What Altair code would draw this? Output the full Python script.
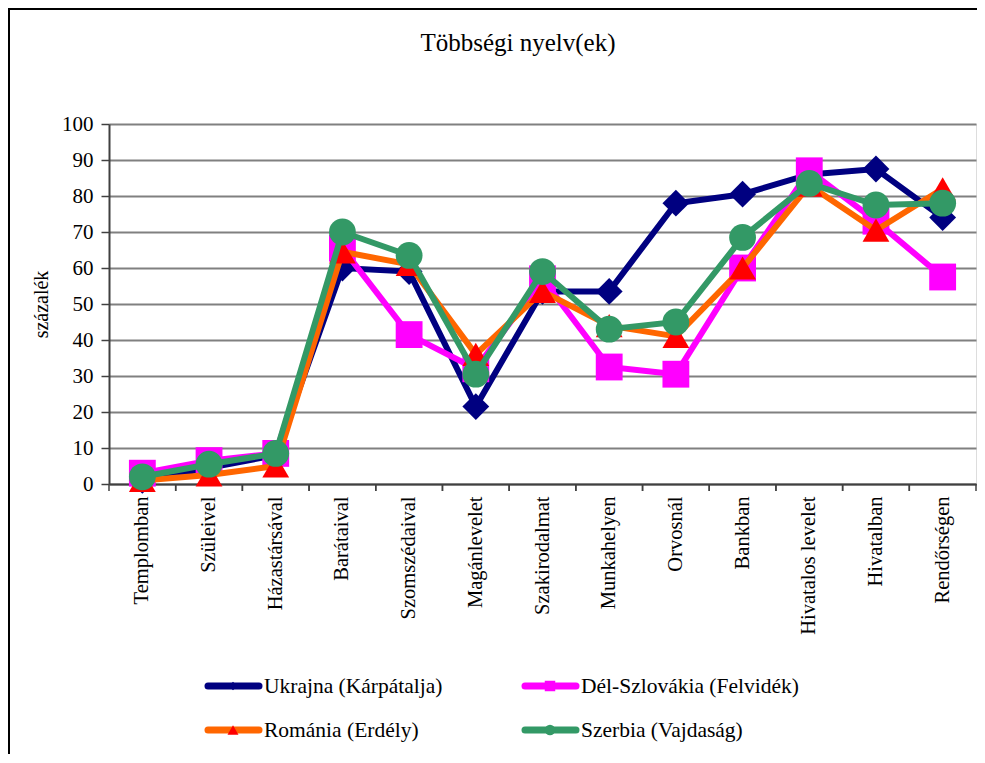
import altair as alt
import pandas as pd

categories = ["Templomban", "Szüleivel", "Házastársával", "Barátaival", "Szomszédaival",
              "Magánlevelet", "Szakirodalmat", "Munkahelyen", "Orvosnál", "Bankban",
              "Hivatalos levelet", "Hivatalban", "Rendőrségen"]
series_names = ["Ukrajna (Kárpátalja)", "Dél-Szlovákia (Felvidék)", "Románia (Erdély)", "Szerbia (Vajdaság)"]
ukrajna = [1, 4.5, 8, 60, 59, 21.5, 53.5, 53.5, 78, 80.5, 86, 87.5, 74]
del_szlovakia = [3, 6.5, 8.5, 65.5, 41.5, 32, 57, 32.5, 30.5, 60, 87, 73, 57.5]
romania = [1, 2.5, 5, 64.5, 61, 36, 53.5, 44, 41, 60, 83, 70.5, 82]
szerbia = [2, 5.5, 8.5, 70, 63.5, 30.5, 59, 43, 45, 68.5, 83.5, 77.5, 78]
y_ticks = [0, 10, 20, 30, 40, 50, 60, 70, 80, 90, 100]
chart_title = "Többségi nyelv(ek)"
y_title = "százalék"

values = [ukrajna, del_szlovakia, romania, szerbia]
line_colors = ["#000080", "#FF00FF", "#FF6600", "#339966"]
marker_colors = ["#000080", "#FF00FF", "#FF0000", "#339966"]
shapes = ["diamond", "square", "triangle-up", "circle"]
legend_sizes = [70, 110, 120, 110]

FONT = "Liberation Serif, Times New Roman, serif"
W, H = 867, 360

rows = []
for name, vals in zip(series_names, values):
    for c, v in zip(categories, vals):
        rows.append({"kategoria": c, "sorozat": name, "ertek": v})
df = pd.DataFrame(rows)
cat_df = pd.DataFrame({"kategoria": categories})

xscale = alt.Scale(type="band", domain=categories, paddingInner=0, paddingOuter=0)
yscale = alt.Scale(domain=[0, 100], nice=False)

x_axis = alt.Axis(title=None, ticks=False, labelAngle=-90, labelAlign="right",
                  labelBaseline="middle", labelPadding=12, labelFont=FONT,
                  labelFontSize=20.5, labelColor="black", domainColor="#404040",
                  domainWidth=2, grid=False, labelOverlap=False, labelLimit=300)
y_axis = alt.Axis(title=y_title, values=y_ticks, titleFont=FONT, titleFontSize=20,
                  titleFontWeight="normal", titleColor="black", titlePadding=10,
                  labelFont=FONT, labelFontSize=21, labelColor="black", labelPadding=8,
                  tickColor="#404040", tickSize=8, tickWidth=1.5, domainColor="#404040",
                  domainWidth=2, gridColor="#808080", gridWidth=2, labelOverlap=False)

def xenc(bp=0.5):
    return alt.X("kategoria:N", scale=xscale, sort=categories, bandPosition=bp, axis=x_axis)

def yenc():
    return alt.Y("ertek:Q", scale=yscale, axis=y_axis)

layers = []

# outer frame
frame = alt.Chart(pd.DataFrame({"a": [0]})).mark_rect(
    fillOpacity=0, stroke="black", strokeWidth=2
).encode(x=alt.value(-100), x2=alt.value(1100), y=alt.value(-115), y2=alt.value(900))
layers.append(frame)

# title
layers.append(alt.Chart(pd.DataFrame({"t": [chart_title]})).mark_text(
    font=FONT, fontSize=25, color="black", align="center", baseline="middle"
).encode(x=alt.value(409), y=alt.value(-81), text="t:N"))

# axes carrier (invisible)
layers.append(alt.Chart(df).mark_point(opacity=0).encode(x=xenc(), y=yenc()))

# category boundary ticks
for bp in (0, 1):
    layers.append(alt.Chart(cat_df).mark_rule(color="#404040", strokeWidth=1.5).encode(
        x=xenc(bp), y=alt.value(H), y2=alt.value(H + 7)))

for i, name in enumerate(series_names):
    sub = alt.Chart(df).transform_filter(alt.datum.sorozat == name)
    layers.append(sub.mark_line(color=line_colors[i], strokeWidth=6, strokeJoin="miter").encode(
        x=xenc(), y=yenc()))
    layers.append(sub.mark_point(shape=shapes[i], filled=True, fill=marker_colors[i], opacity=1,
                                 size=720, strokeWidth=0).encode(x=xenc(), y=yenc()))

# legend
leg_pos = [(96, 562), (413, 562), (96, 606), (413, 606)]
for i, name in enumerate(series_names):
    lx, ly = leg_pos[i]
    ldf = pd.DataFrame({"sorozat": [name]})
    layers.append(alt.Chart(ldf).mark_rule(color=line_colors[i], strokeWidth=7, strokeCap="round").encode(
        x=alt.value(lx + 3), x2=alt.value(lx + 54), y=alt.value(ly)))
    layers.append(alt.Chart(ldf).mark_point(shape=shapes[i], filled=True, fill=marker_colors[i],
                                            opacity=1, size=legend_sizes[i], strokeWidth=0).encode(
        x=alt.value(lx + 28), y=alt.value(ly)))
    layers.append(alt.Chart(ldf).mark_text(align="left", baseline="middle", font=FONT, fontSize=21.5,
                                           color="black").encode(
        x=alt.value(lx + 59), y=alt.value(ly + 1), text="sorozat:N"))

chart = alt.layer(*layers).properties(
    width=W, height=H,
    autosize=alt.AutoSizeParams(type="none"),
    padding={"left": 101, "top": 116, "right": 1, "bottom": 270},
).configure_view(stroke="#808080", strokeWidth=2).configure(background="white", font=FONT)

chart.save("out.html", embed_options={"renderer": "svg", "actions": False})
